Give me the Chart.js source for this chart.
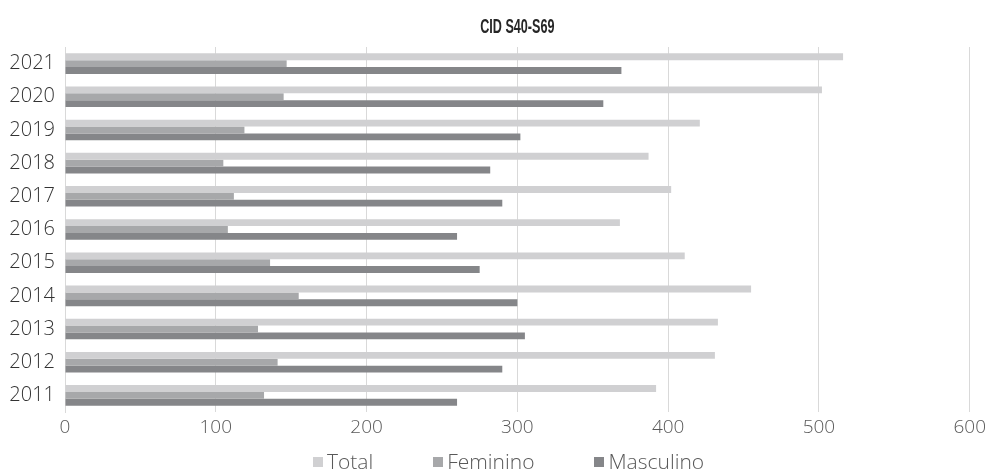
<!DOCTYPE html>
<html>
<head>
<meta charset="utf-8">
<script src="https://cdn.jsdelivr.net/npm/chart.js@4/dist/chart.umd.min.js"></script>
<style>
  html, body { margin: 0; padding: 0; background: #ffffff; }
  #wrap { width: 990px; height: 473px; position: relative; }
  #legend {
    position: absolute; left: 313px; top: 449px; height: 24px;
    display: flex; align-items: center; gap: 60px;
    font-family: 'Open Sans', 'DejaVu Sans', sans-serif; font-weight: 300;
    font-size: 21px; color: #595959; line-height: 24px; white-space: nowrap;
  }
  #legend .item { display: flex; align-items: center; }
  #legend .box { width: 10px; height: 10px; margin-right: 4px; margin-top: 2px; }
</style>
</head>
<body>
<div id="wrap">
  <canvas id="chart"></canvas>
  <div id="legend"></div>
</div>
<script>
// Anos (categorias do eixo vertical)
const years = ['2011', '2012', '2013', '2014', '2015', '2016', '2017', '2018', '2019', '2020', '2021'];

// Séries por ano
const total     = [392, 431, 433, 455, 411, 368, 402, 387, 421, 502, 516];
const feminino  = [132, 141, 128, 155, 136, 108, 112, 105, 119, 145, 147];
const masculino = [260, 290, 305, 300, 275, 260, 290, 282, 302, 357, 369];

// Marcas do eixo horizontal
const xTicks = [0, 100, 200, 300, 400, 500, 600];

const chartTitle = 'CID S40-S69';
const labelFont = "'Open Sans', 'DejaVu Sans', sans-serif";

// Título em negrito condensado, centrado sobre a área do gráfico
const condensedTitle = {
  id: 'condensedTitle',
  afterDraw(chart) {
    const { ctx, chartArea } = chart;
    const cx = (chartArea.left + chartArea.right) / 2;
    ctx.save();
    ctx.font = "bold 20px 'Liberation Sans', Arial, sans-serif";
    ctx.fillStyle = '#262626';
    ctx.textAlign = 'center';
    ctx.textBaseline = 'middle';
    ctx.translate(cx, 27);
    ctx.scale(0.63, 1);
    ctx.fillText(chartTitle, 0, 0);
    ctx.restore();
  }
};

const chart = new Chart(document.getElementById('chart'), {
  type: 'bar',
  data: {
    labels: years,
    datasets: [
      { label: 'Total',     data: total,     backgroundColor: '#d0d0d2' },
      { label: 'Feminino',  data: feminino,  backgroundColor: '#a7a8aa' },
      { label: 'Masculino', data: masculino, backgroundColor: '#858689' }
    ]
  },
  options: {
    indexAxis: 'y',
    responsive: true,
    maintainAspectRatio: false,
    animation: false,
    layout: { padding: { left: 0, right: 20, top: 47, bottom: 30 } },
    datasets: {
      bar: { categoryPercentage: 0.62, barPercentage: 1.0, borderWidth: 0 }
    },
    scales: {
      x: {
        min: xTicks[0],
        max: xTicks[xTicks.length - 1],
        afterBuildTicks: (axis) => { axis.ticks = xTicks.map(v => ({ value: v })); },
        grid: { color: '#d9d9d9', lineWidth: 1, drawTicks: false },
        border: { display: false },
        ticks: { color: '#595959', padding: 4, font: { family: labelFont, size: 19, weight: 300 } },
        afterFit: (axis) => { axis.height = 31; }
      },
      y: {
        reverse: true,
        grid: { display: false, drawTicks: false },
        border: { display: true, color: '#d9d9d9', width: 1 },
        ticks: { color: '#333333', padding: 10, font: { family: labelFont, size: 20, weight: 300 } },
        afterFit: (axis) => { axis.width = 65; }
      }
    },
    plugins: {
      title: { display: false },
      legend: { display: false },
      tooltip: { enabled: false }
    }
  },
  plugins: [condensedTitle]
});

// Legenda construída a partir dos conjuntos de dados
const legendEl = document.getElementById('legend');
chart.data.datasets.forEach(ds => {
  const item = document.createElement('span');
  item.className = 'item';
  const box = document.createElement('span');
  box.className = 'box';
  box.style.background = ds.backgroundColor;
  const txt = document.createElement('span');
  txt.textContent = ds.label;
  item.appendChild(box);
  item.appendChild(txt);
  legendEl.appendChild(item);
});
</script>
</body>
</html>
